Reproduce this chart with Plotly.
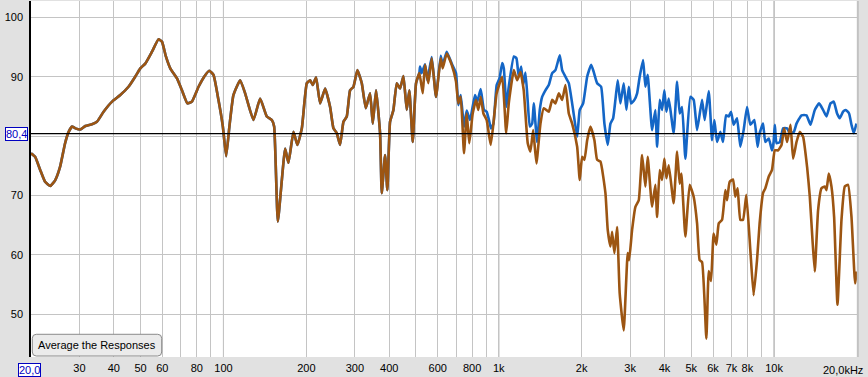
import math
import plotly.graph_objects as go

# ---------------- data (Hz, dB SPL) ----------------
brown_freq = [
    20.0, 20.7, 21.6, 22.5, 23.5, 24.5, 25.5, 26.6, 27.4, 28.2,
    29.0, 30.2, 31.5, 33.3, 34.7, 36.7, 39.4, 42.2, 45.2, 47.8,
    49.9, 52.0, 55.0, 58.1, 59.8, 61.8, 64.1, 67.8, 70.7, 74.0,
    76.8, 81.2, 85.1, 88.8, 92.0, 95.9, 99.5, 102.3, 105.1, 108.7,
    115.0, 119.9, 128.5, 135.9, 143.7, 149.9, 152.8, 157.6, 167.5, 172.2,
    179.6, 185.6, 192.6, 200.8, 206.4, 211.1, 217.0, 224.4, 234.0, 244.0,
    250.9, 258.0, 265.2, 272.8, 280.5, 288.3, 296.6, 306.5, 318.0, 328.8,
    340.8, 348.6, 358.3, 370.5, 375.8, 386.3, 393.8, 402.8, 414.3, 426.0,
    437.9, 450.5, 463.1, 473.3, 486.9, 500.6, 514.6, 529.4, 539.7, 554.7,
    570.7, 591.6, 615.3, 625.7, 647.0, 674.6, 699.3, 712.8, 727.3, 747.6,
    764.7, 781.5, 804.0, 826.5, 842.5, 859.6, 879.5, 903.8, 934.5, 956.2,
    982.5, 1029, 1064, 1087, 1134, 1166, 1199, 1232, 1274, 1303,
    1333, 1370, 1417, 1457, 1519, 1563, 1606, 1652, 1699, 1746,
    1796, 1847, 1926, 1968, 2008, 2047, 2094, 2152, 2225, 2276,
    2340, 2440, 2487, 2544, 2580, 2630, 2690, 2749, 2843, 2939,
    2974, 3049, 3135, 3224, 3315, 3408, 3474, 3604, 3705, 3758,
    3841, 3918, 3994, 4062, 4143, 4317, 4442, 4539, 4604, 4761,
    4935, 5103, 5250, 5365, 5474, 5674, 5789, 5901, 6031, 6169,
    6294, 6470, 6651, 6746, 6894, 7093, 7230, 7371, 7539, 7711,
    7926, 8196, 8425, 8668, 8858, 9114, 9290, 9562, 9825, 10059,
    10340, 10638, 10872, 11148, 11469, 11721, 12059, 12396, 12743, 13176,
    13477, 13784, 14052, 14444, 14861, 15277, 15495, 15796, 16156, 16515,
    16988, 17565, 18056, 18562, 19097, 19679, 19912,
]
brown_db = [
    77.1, 76.5, 74.3, 72.3, 71.6, 72.6, 74.8, 78.8, 80.7, 81.6,
    81.3, 81.1, 81.7, 82.0, 82.4, 84.1, 85.8, 86.9, 88.3, 90.0,
    91.4, 92.2, 94.2, 96.3, 95.9, 93.4, 91.4, 89.7, 87.7, 85.5,
    85.8, 88.3, 90.0, 91.0, 90.3, 86.1, 81.6, 76.6, 81.6, 86.9,
    89.4, 87.2, 82.7, 86.3, 83.3, 82.7, 81.6, 65.6, 77.9, 75.5,
    80.7, 78.5, 81.3, 88.9, 89.4, 88.6, 89.9, 85.5, 88.0, 84.9,
    81.3, 80.5, 78.5, 82.4, 83.3, 87.7, 88.3, 91.1, 88.9, 84.7,
    87.2, 82.1, 87.7, 80.5, 70.4, 76.8, 70.9, 82.4, 84.4, 88.9,
    88.0, 90.1, 84.4, 87.7, 79.0, 88.9, 90.6, 87.2, 92.0, 88.9,
    93.1, 86.6, 93.1, 91.4, 93.9, 92.0, 89.2, 85.5, 86.6, 77.1,
    83.8, 78.8, 83.8, 86.1, 84.4, 86.6, 83.8, 82.7, 78.5, 82.1,
    87.2, 90.0, 80.5, 85.5, 91.1, 89.4, 90.8, 87.7, 78.8, 77.4,
    81.0, 75.4, 82.1, 84.7, 84.1, 86.1, 85.5, 87.2, 86.1, 88.6,
    83.8, 82.1, 78.2, 72.6, 76.5, 76.0, 79.3, 81.6, 79.3, 76.0,
    75.7, 70.4, 64.2, 61.4, 63.9, 60.3, 64.7, 53.5, 47.3, 60.3,
    59.1, 64.2, 68.1, 69.2, 76.8, 71.5, 76.5, 68.1, 71.8, 66.4,
    74.3, 72.6, 76.2, 72.9, 75.1, 68.7, 77.4, 72.0, 73.7, 63.1,
    71.8, 69.8, 65.3, 59.1, 58.8, 45.9, 57.3, 55.6, 63.6, 61.7,
    65.3, 65.9, 70.9, 69.2, 72.3, 72.7, 69.8, 71.2, 65.9, 65.9,
    70.1, 60.8, 53.2, 59.1, 65.3, 70.4, 71.2, 73.2, 74.3, 77.6,
    77.6, 78.5, 81.3, 79.0, 81.9, 76.2, 79.0, 80.7, 79.9, 74.8,
    69.8, 62.5, 57.2, 67.5, 71.2, 71.5, 70.9, 73.7, 71.5, 66.4,
    51.6, 65.9, 71.5, 71.8, 66.4, 55.2, 57.2,
]

# blue response: identical to brown below ~515 Hz, then these readings
blue_freq_hi = [
    517.6, 525.0, 539.7, 550.1, 570.7, 591.6, 615.3, 625.7, 647.0, 674.6,
    699.3, 712.8, 727.3, 747.6, 764.7, 786.0, 819.6, 835.5, 859.6, 883.6,
    903.8, 921.3, 936.8, 956.2, 982.5, 1006, 1029, 1043, 1066, 1087,
    1134, 1159, 1182, 1206, 1226, 1250, 1274, 1296, 1322, 1340,
    1378, 1409, 1437, 1477, 1519, 1563, 1606, 1665, 1699, 1746,
    1796, 1862, 1926, 1968, 2025, 2094, 2165, 2212, 2276, 2353,
    2419, 2487, 2544, 2602, 2652, 2704, 2765, 2843, 2908, 2966,
    3024, 3109, 3180, 3249, 3343, 3408, 3474, 3604, 3705, 3758,
    3841, 3918, 3994, 4062, 4143, 4317, 4442, 4539, 4631, 4761,
    4964, 5103, 5250, 5474, 5594, 5789, 5951, 6067, 6205, 6379,
    6524, 6690, 6843, 6975, 7128, 7334, 7539, 7750, 7973, 8196,
    8475, 8712, 8858, 9114, 9290, 9562, 9825, 9958, 10059, 10203,
    10488, 10781, 11148, 11402, 11790, 12059, 12573, 13110, 13556, 14052,
    14566, 15061, 15495, 16022, 16470, 16931, 17317, 17801, 18208, 18717,
    19097, 19467, 19912,
]
blue_db_hi = [
    91.7, 90.6, 92.1, 89.4, 93.3, 86.6, 93.5, 92.0, 94.2, 92.2,
    90.6, 85.2, 86.9, 81.6, 84.3, 82.7, 86.9, 85.8, 87.9, 84.4,
    84.1, 82.7, 81.3, 82.1, 88.6, 89.7, 92.3, 91.4, 84.9, 88.3,
    93.4, 93.1, 90.0, 91.7, 88.6, 90.7, 85.8, 81.6, 82.1, 85.5,
    79.0, 84.4, 86.6, 87.7, 88.6, 90.6, 91.1, 93.6, 91.1, 90.0,
    88.9, 84.4, 79.9, 84.4, 85.5, 90.0, 92.0, 90.8, 88.9, 88.3,
    82.1, 78.5, 82.1, 83.0, 86.1, 89.4, 85.5, 88.9, 84.4, 88.3,
    85.5, 86.1, 87.2, 90.0, 92.8, 88.3, 90.3, 81.0, 84.4, 78.2,
    86.1, 84.4, 87.7, 84.1, 86.3, 80.5, 89.2, 83.8, 84.9, 76.2,
    86.6, 86.1, 81.0, 86.1, 82.7, 87.6, 79.3, 82.7, 79.0, 80.7,
    79.0, 83.5, 83.3, 84.1, 81.9, 83.0, 78.2, 81.0, 84.9, 81.9,
    82.7, 78.2, 80.5, 82.1, 79.0, 79.6, 77.6, 79.0, 81.9, 78.8,
    79.0, 81.3, 81.3, 80.5, 80.7, 82.1, 83.5, 83.5, 81.9, 84.4,
    85.5, 84.4, 83.3, 85.5, 85.8, 83.8, 83.0, 84.1, 84.4, 83.8,
    81.9, 80.5, 82.1,
]

x_grid = [20, 30, 40, 50, 60, 70, 80, 90, 100, 200, 300, 400, 500, 600, 700,
          800, 900, 1000, 2000, 3000, 4000, 5000, 6000, 7000, 8000, 9000,
          10000]
x_labels = ["", "30", "40", "50", "60", "", "80", "", "100", "200", "300",
            "400", "", "600", "", "800", "", "1k", "2k", "3k", "4k", "5k",
            "6k", "7k", "8k", "", "10k"]
x_end_text = "20,0kHz"
y_grid = [50, 60, 70, 80, 90, 100]
y_labels = ["50", "60", "70", "", "90", "100"]
decades = [100, 1000, 10000]
cursor_level = 80.4
cursor_text = "80,4"
x_start_text = "20,0"
button_text = "Average the Responses"

# ---------------- build ----------------
low_n = sum(1 for f in brown_freq if f < 516)
blue_freq = brown_freq[:low_n] + blue_freq_hi
blue_db = brown_db[:low_n] + blue_db_hi

FONT = "Liberation Sans, Arial, sans-serif"
fig = go.Figure()
fig.add_trace(go.Scatter(x=blue_freq, y=blue_db, mode="lines",
                         line=dict(color="#1466c6", width=2.6, shape="spline", smoothing=0.4),
                         hoverinfo="skip", showlegend=False))
fig.add_trace(go.Scatter(x=brown_freq, y=brown_db, mode="lines",
                         line=dict(color="#9c5512", width=2.6, shape="spline", smoothing=0.4),
                         hoverinfo="skip", showlegend=False))

shapes = []
for d in decades:
    shapes.append(dict(type="line", xref="x", yref="paper", x0=d, x1=d, y0=0, y1=1,
                       line=dict(color="#8a8a8a", width=1), layer="between"))
shapes.append(dict(type="line", xref="paper", yref="y", x0=0, x1=1,
                   y0=cursor_level, y1=cursor_level,
                   line=dict(color="black", width=1.3), layer="above"))
shapes.append(dict(type="line", xref="paper", yref="paper", x0=1.001, x1=1.001, y0=0, y1=1,
                   line=dict(color="#c2c2c2", width=2), layer="above"))

# rounded button (paper coords)
bx0, bx1, by0, by1 = 0.0016, 0.1582, 0.0028, 0.0638
rx, ry = 0.0048, 0.0112
path = (f"M {bx0+rx},{by0} L {bx1-rx},{by0} Q {bx1},{by0} {bx1},{by0+ry} "
        f"L {bx1},{by1-ry} Q {bx1},{by1} {bx1-rx},{by1} L {bx0+rx},{by1} "
        f"Q {bx0},{by1} {bx0},{by1-ry} L {bx0},{by0+ry} Q {bx0},{by0} {bx0+rx},{by0} Z")
shapes.append(dict(type="path", xref="paper", yref="paper", path=path,
                   fillcolor="#ebebeb", line=dict(color="#8a8a8a", width=1), layer="above"))

annotations = [
    dict(text=cursor_text, xref="paper", yref="y", x=-0.0178, y=cursor_level,
         xanchor="center", yanchor="middle", showarrow=False,
         font=dict(family=FONT, size=11, color="#0000c0"),
         bordercolor="#0000c0", borderwidth=1, borderpad=0, bgcolor="white"),
    dict(text=x_start_text, xref="paper", yref="paper", x=-0.0016, y=-0.0365,
         xanchor="center", yanchor="middle", showarrow=False,
         font=dict(family=FONT, size=11, color="#0000c0"),
         bordercolor="#0000c0", borderwidth=1, borderpad=0, bgcolor="white"),
    dict(text=x_end_text, xref="paper", yref="paper", x=1.0097, y=-0.0365,
         xanchor="right", yanchor="middle", showarrow=False,
         font=dict(family=FONT, size=11, color="black")),
    dict(text=button_text, xref="paper", yref="paper", x=0.0799, y=0.0335,
         xanchor="center", yanchor="middle", showarrow=False,
         font=dict(family=FONT, size=11, color="black")),
]

fig.update_layout(
    width=868, height=377,
    margin=dict(l=31, r=11, t=1, b=20, pad=0, autoexpand=False),
    paper_bgcolor="#e1e1e1", plot_bgcolor="white",
    showlegend=False, shapes=shapes, annotations=annotations,
    font=dict(family=FONT, size=11, color="black"),
    xaxis=dict(type="log", range=[math.log10(20), math.log10(20000)],
               tickvals=x_grid, ticktext=x_labels, ticks="", automargin=False,
               showgrid=True, gridcolor="#c4c4c4", gridwidth=1,
               zeroline=False, showline=False, fixedrange=True, ticklabelstandoff=3,
               tickfont=dict(family=FONT, size=11, color="black")),
    yaxis=dict(range=[42.81, 102.74], tickvals=y_grid, ticktext=y_labels, ticks="",
               automargin=False,
               showgrid=True, gridcolor="#c4c4c4", gridwidth=1,
               zeroline=False, showline=True, linecolor="black", linewidth=1.5,
               fixedrange=True, ticklabelstandoff=4,
               tickfont=dict(family=FONT, size=11, color="black")),
)

fig.write_html(
    "out.html",
    config={"displayModeBar": False},
    post_script="document.body.style.margin='0';document.body.style.overflow='hidden';",
)
